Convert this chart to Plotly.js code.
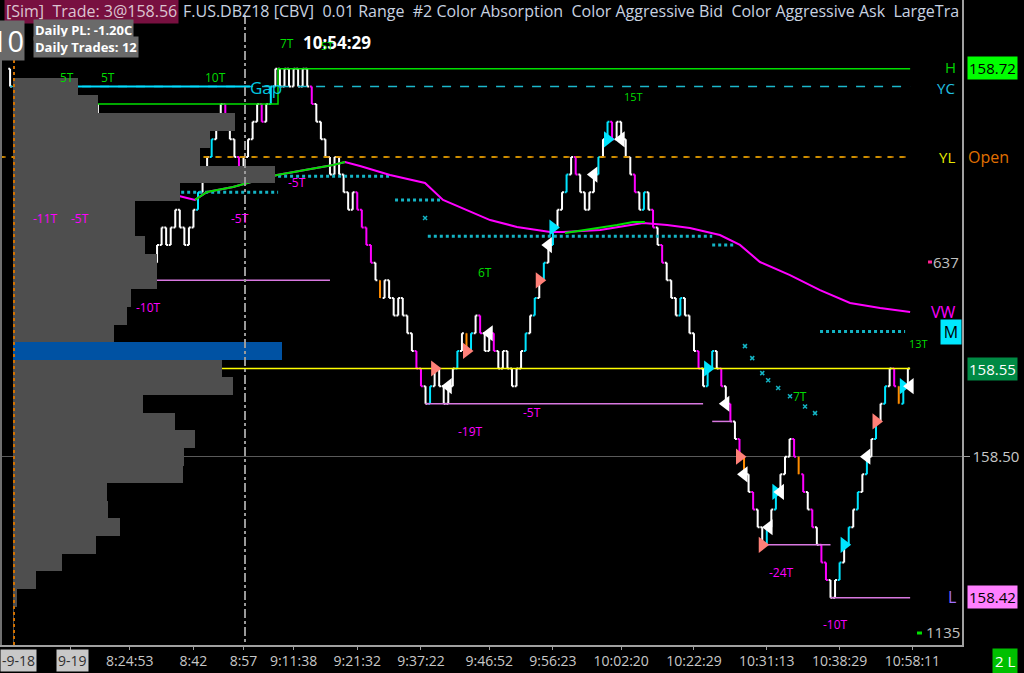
<!DOCTYPE html>
<html><head><meta charset="utf-8">
<script src="https://cdn.plot.ly/plotly-3.0.1.min.js"></script>
<style>html,body{margin:0;padding:0;background:#000;}#chart{width:1024px;height:673px;}</style>
</head><body><div id="chart"></div>
<script>
// ---------------- DATA ----------------
const TICK = 0.01;
const BASE = 158.55;                 // price reference for tick offsets
const sessionOpenTicks = 11;         // first bar open, ticks from BASE
// range-bar closes (ticks from BASE), one per bar, bar index 1..N
const closeTicks = [
  12,11,12,13,14,15,14,15,14,13, 12,13,14,15,14,15,14,15,14,13,
  12,11,10,9,8,7,6,5,
  6,5,6,7,8,7,8,9,8,7,8,9,
  10,11,12,13,14,15,
  14,13,12,11,12,13,
  14,15,14,15,16,17,
  16,17,16,17,16,17,16,15,
  14,13,12,11,12,11,10,9,10,9,8,7,6,5,
  4,5,4,3,4,3,2,
  1,0,-1,-2,-1,0,-1,-2,-1,
  0,1,2,1,2,3,2,1,2,1,0,1,0,-1,0,1,2,
  3,4,5,6,7,8,9,10,11,12,11,10,9,10,11,12,13,14,13,14,13,12,
  11,10,9,10,9,8,7,6,5,4,3,4,3,2,1,0,-1,0,1,0,-1,-2,-3,-4,-5,-6,-7,-8,-9,-10,
  -9,-8,-7,-6,-5,-4,-5,-6,-7,-8,-9,-10,-11,-12,-13,
  -12,-11,-10,-9,-8,-7,-6,-5,-4,-3,-2,-1,0,-1,-2,-1,0
];
const aggressiveAskBars = [16,18,41,44,57,92,98,101,113,115,117,119,122,129,131,139,147,153,154,166,168,182,184,186,188,190,192,196];
const aggressiveBidBars = [2,9,21,22,23,25,27,30,47,50,55,66,76,77,78,79,89,90,103,106,124,132,137,141,143,151,156,158,160,163,172,174,176,178,179,194];
const absorptionBars = [81,100,161,173,195];
const prevSessionBar = {idx:-0.3, open:158.72, high:158.72, low:158.71, close:158.71};

const timeTickIdx  = [13,26,40,51,62,76,90,105,119,134,150,166,182,198];
const timeTickText = ['','8:24:53','8:42','8:57','9:11:38','9:21:32','9:37:22','9:46:52','9:56:23','10:02:20','10:22:29','10:31:13','10:38:29','10:58:11'];

const profilePrices  = [158.71,158.70,158.69,158.68,158.67,158.66,158.65,158.64,158.63,158.62,158.61,158.60,158.59,158.58,158.57,158.56,158.55,158.54,158.53,158.52,158.51,158.50,158.49,158.48,158.47,158.46,158.45,158.44,158.43,158.42,158.41,158.40];
const profileVolumes = [65,85,222,197,187,262,167,122,122,132,144,144,118,114,101,269,209,220,130,162,182,171,170,94,95,107,83,49,23,4,1,1];
const pocPrice = 158.56;

const vwapIdx = [0.56,4.74,8.47,10.67,12.87,15.07,19.46,20.34,21.66,23.2,25.4,27.59,30.45,34.19,37.7,40.34,42.98,48.69,58.36,70.67,73.31,76.6,83.2,85.4,90.89,94.85,100.1,105.2,111.1,118.4,121.2,129.4,138.8,144.1,149.1,155.7,160.1,164.5,171.1,177.7,184.3,190.9,197.5];
const vwapVal = [158.6598,158.6609,158.6700,158.6768,158.6779,158.6756,158.6813,158.6830,158.6768,158.6700,158.6643,158.6530,158.6512,158.6495,158.6473,158.6456,158.6501,158.6530,158.6598,158.6654,158.6671,158.6649,158.6598,158.6586,158.6552,158.6456,158.6399,158.6342,158.6303,158.6274,158.6274,158.6285,158.6325,158.6314,158.6297,158.6257,158.6201,158.6104,158.6030,158.5945,158.5872,158.5843,158.5820];
const avg1Idx = [4.74,8.47,10.23,12.21,14.41,19.46];
const avg1Val = [158.6609,158.6700,158.6779,158.6785,158.6756,158.6813];
const avg2Idx = [40.34,42.98,48.69,58.36,70.67,73.31];
const avg2Val = [158.6456,158.6501,158.6530,158.6598,158.6654,158.6671];
const avg3Idx = [121.66,129.35,133.1,136.6,139.2];
const avg3Val = [158.6269,158.6297,158.6314,158.6331,158.6331];

const highStepIdx = [1.88,5.62,5.62,58.58,58.58,197.5];
const highStepVal = [158.68,158.68,158.70,158.70,158.72,158.72];
const yesterdayClose = 158.71, yesterdayLow = 158.67, markPrice = 158.55;
const gapStart = 14.4, gapEnd = 52.4;
const lowSegStart = [1.2,28,91,154,165,180];
const lowSegEnd   = [23,70,152,158.4,180,197.5];
const lowSegPrice = [158.65,158.60,158.53,158.52,158.45,158.42];
const absorbStart = [6.5,22.8,58.6,84.3,91.5,154,177.7];
const absorbEnd   = [21.2,58.6,83.2,94.2,154,159,196.4];
const absorbPrice = [158.675,158.650,158.659,158.6456,158.625,158.620,158.571];
const absorbDotIdx = [90.9,161.2,162.8,165,166.3,168.5,171.1,174.4,176.6];
const absorbDotVal = [158.6354,158.5627,158.5559,158.5474,158.5434,158.5389,158.5343,158.5285,158.5247];

const buyIdx = [93,100,116,160,165,190];
const buyPx  = [158.55,158.56,158.60,158.50,158.45,158.52];
const askEntryIdx = [119,131,153,168,183,196];
const askEntryPx  = [158.63,158.68,158.55,158.48,158.45,158.54];
const exitIdx = [96,105,118,128,134,157,161,166.5,169,188,197.5];
const exitPx  = [158.54,158.57,158.62,158.66,158.68,158.53,158.49,158.46,158.48,158.50,158.54];

// ---------------- BUILD ----------------
const FONT = '"Open Sans","Noto Sans",sans-serif';
const PW = 962, PH = 645;
const P = t => +(BASE + t*TICK).toFixed(2);
const idxAll = closeTicks.map((_, i) => i + 1);
const opens = closeTicks.map((c, i) => i === 0 ? sessionOpenTicks : closeTicks[i-1]);
const colored = new Set([...aggressiveAskBars, ...aggressiveBidBars, ...absorptionBars]);

function ohlc(list, color) {
  let md = Infinity;
  for (let k = 1; k < list.length; k++) md = Math.min(md, list[k] - list[k-1]);
  if (!isFinite(md)) md = 1;
  return {
    type:'ohlc', x:list,
    open:list.map(i => P(opens[i-1])), close:list.map(i => P(closeTicks[i-1])),
    high:list.map(i => P(Math.max(opens[i-1], closeTicks[i-1]))),
    low:list.map(i => P(Math.min(opens[i-1], closeTicks[i-1]))),
    increasing:{line:{color:color, width:2}}, decreasing:{line:{color:color, width:2}},
    tickwidth:Math.min(0.5, 0.42/md), hoverinfo:'skip'
  };
}
function line(x, y, color, width, dash, extra) {
  return Object.assign({type:'scatter', mode:'lines', x:x, y:y, line:{color:color, width:width, dash:dash||'solid'}, hoverinfo:'skip'}, extra||{});
}

const traces = [];
traces.push({type:'bar', orientation:'h', x:profileVolumes, y:profilePrices, xaxis:'x2', yaxis:'y', width:0.0101,
  marker:{color:profilePrices.map(p => p === pocPrice ? '#0052a3' : '#4e4e4e'), line:{width:0}}, hoverinfo:'skip'});
// reference levels
traces.push(line([-2.6,197.5],[yesterdayLow,yesterdayLow],'#d8d000',1.5,'4px,8px'));
traces.push(line([-2.6,197.5],[yesterdayLow,yesterdayLow],'#e08a00',1.5,'6px,6px'));
traces.push(line([-0.3,197.5],[yesterdayClose,yesterdayClose],'#1cb8cc',1.5,'dash'));
traces.push(line([gapStart,gapEnd],[yesterdayClose,yesterdayClose],'#00dcff',2));
traces.push(line([5.18,197.5],[markPrice,markPrice],'#ffff00',1.5));
traces.push(line(highStepIdx, highStepVal, '#00e000', 1.5));
for (let k = 0; k < lowSegPrice.length; k++)
  traces.push(line([lowSegStart[k], lowSegEnd[k]], [lowSegPrice[k], lowSegPrice[k]], '#d878e0', 1.5));
for (let k = 0; k < absorbPrice.length; k++)
  traces.push(line([absorbStart[k], absorbEnd[k]], [absorbPrice[k], absorbPrice[k]], '#14b4c4', 3, 'dot'));
traces.push({type:'scatter', mode:'markers', x:absorbDotIdx, y:absorbDotVal, marker:{symbol:'x-thin', size:4, line:{color:'#14b4c4', width:1.5}}, hoverinfo:'skip'});
// vwap & averages
traces.push(line(vwapIdx, vwapVal, '#ff00ff', 2));
traces.push(line(avg1Idx, avg1Val, '#00e000', 2));
traces.push(line(avg2Idx, avg2Val, '#00e000', 2));
traces.push(line(avg3Idx, avg3Val, '#00e000', 2));
// bars
traces.push(ohlc(idxAll.filter(i => !colored.has(i)), '#ffffff'));
traces.push(ohlc(aggressiveAskBars, '#00e5ff'));
traces.push(ohlc(aggressiveBidBars, '#ff00ff'));
traces.push(ohlc(absorptionBars, '#ff8c00'));
traces.push({type:'ohlc', x:[prevSessionBar.idx], open:[prevSessionBar.open], high:[prevSessionBar.high], low:[prevSessionBar.low], close:[prevSessionBar.close],
  increasing:{line:{color:'#fff', width:2}}, decreasing:{line:{color:'#fff', width:2}}, tickwidth:0.4, hoverinfo:'skip'});
// trades
traces.push({type:'scatter', mode:'markers', x:buyIdx, y:buyPx, marker:{symbol:'triangle-right', size:14, color:'#ff8078'}, hoverinfo:'skip'});
traces.push({type:'scatter', mode:'markers', x:askEntryIdx, y:askEntryPx, marker:{symbol:'triangle-right', size:14, color:'#00e5ff'}, hoverinfo:'skip'});
traces.push({type:'scatter', mode:'markers', x:exitIdx, y:exitPx, marker:{symbol:'triangle-left', size:14, color:'#ffffff'}, hoverinfo:'skip'});

// ---------------- LAYOUT ----------------
const px = x => x / PW, py = y => 1 - y / PH;
function A(text, x, y, color, size, extra) {
  return Object.assign({text:text, x:px(x), y:py(y), xref:'paper', yref:'paper', showarrow:false,
    xanchor:'center', yanchor:'middle', font:{family:FONT, size:size, color:color}}, extra||{});
}
const G = '#00dc00', M = '#ff00ff';
const ann = [
  A('[Sim]\u00a0 Trade: 3@158.56', 4, 11, '#dcc4d0', 16, {xanchor:'left', bgcolor:'#781040', borderpad:1}),
  A('F.US.DBZ18 [CBV]\u00a0 0.01 Range\u00a0 #2 Color Absorption\u00a0 Color Aggressive Bid\u00a0 Color Aggressive Ask\u00a0 LargeTra', 181, 11, '#c8d2e0', 16, {xanchor:'left'}),
  A('10', 25, 40, '#ffffff', 29, {xanchor:'right', bgcolor:'#6a6a6a', borderpad:0}),
  A('<b>Daily PL: -1.20C</b>', 33, 30, '#ffffff', 13, {xanchor:'left', bgcolor:'#6a6a6a', borderpad:1}),
  A('<b>Daily Trades: 12</b>', 33, 47, '#ffffff', 13, {xanchor:'left', bgcolor:'#6a6a6a', borderpad:1}),
  A('7T', 287, 44, G, 12),
  A('<b>10:54:29</b>', 337, 42, '#ffffff', 17),
  A('5T', 327, 45, G, 11),
  A('5T', 67, 78, G, 12), A('5T', 108, 78, G, 12), A('10T', 215, 78, G, 12),
  A('Gap', 266, 87, '#00c8e0', 17),
  A('15T', 633, 97, G, 11), A('6T', 485, 273, G, 12), A('7T', 800, 396, G, 12), A('13T', 918, 343, G, 11),
  A('-5T', 297, 183, M, 12), A('-11T', 45, 218, M, 12), A('-5T', 80, 218, M, 12), A('-5T', 240, 218, M, 12),
  A('-10T', 148, 307, M, 12), A('-5T', 532, 412, M, 12), A('-19T', 470, 431, M, 12),
  A('-24T', 781, 572, M, 12), A('-10T', 835, 624, M, 12),
  A('H', 950, 67, '#00d000', 15), A('YC', 946, 88, '#20c0e0', 15), A('YL', 947, 157, '#e8e800', 15),
  A('Open', 988, 157, '#e07000', 16),
  A('637', 946, 262, '#c0c0c0', 15), A('VW', 943, 312, '#ff00ff', 16),
  A('M', 951, 332, '#000000', 16, {bgcolor:'#00e8ff', borderpad:1, width:18}),
  A('L', 952, 597, '#a070ff', 16), A('1135', 943, 632, '#c0c0c0', 15),
  A('158.72', 992, 68, '#000000', 15, {bgcolor:'#00ff00', borderpad:1}),
  A('158.55', 992, 369, '#ffffff', 15, {bgcolor:'#008a44', borderpad:1}),
  A('158.42', 992, 597, '#000000', 15, {bgcolor:'#ff80ff', borderpad:1}),
  A('2 L', 1005, 661, '#ffffff', 15, {bgcolor:'#00c000', borderpad:2}),
  A('-9-18', 0, 660, '#303030', 14, {xanchor:'left', bgcolor:'#c8c8c8', borderpad:1}),
  A('9-19', 72, 660, '#303030', 14, {bgcolor:'#c8c8c8', borderpad:1})
];
function S(x0, y0, x1, y1, color, width, dash) {
  return {type:'line', xref:'paper', yref:'paper', x0:px(x0), y0:py(y0), x1:px(x1), y1:py(y1), line:{color:color, width:width, dash:dash||'solid'}};
}
const shapes = [
  S(245, 15, 245, 645, '#9a9a9a', 2, 'dashdot'),
  S(14, 60, 14, 645, '#d07000', 2, 'dot'),
  S(1, 60, 1, 645, '#707070', 2),
  S(928, 262, 932, 262, '#ff2090', 3),
  S(917, 633, 922, 633, '#00e000', 3)
];

const layout = {
  width:1024, height:673, paper_bgcolor:'#000', plot_bgcolor:'#000',
  margin:{l:0, r:62, t:0, b:28}, showlegend:false, dragmode:false, bargap:0,
  xaxis:{range:[-2.516, 208.9], tickmode:'array', tickvals:timeTickIdx, ticktext:timeTickText,
    tickfont:{family:FONT, size:14, color:'#c8c8c8'}, ticks:'outside', ticklen:3, tickcolor:'#a0a0a0',
    showgrid:false, zeroline:false, showline:true, linecolor:'#a0a0a0', linewidth:1.5,
    rangeslider:{visible:false}, fixedrange:true},
  xaxis2:{overlaying:'x', range:[-13, 949], visible:false, fixedrange:true},
  yaxis:{side:'right', range:[158.3932, 158.7590], tickmode:'array', tickvals:[158.50], ticktext:['158.50'],
    ticks:'outside', ticklen:6, tickcolor:'#a0a0a0', tickfont:{family:FONT, size:15, color:'#c8c8c8'},
    showgrid:true, gridcolor:'#5a5a5a', gridwidth:1, zeroline:false, showline:true, linecolor:'#a0a0a0', linewidth:1.5, fixedrange:true},
  annotations:ann, shapes:shapes
};
Plotly.newPlot('chart', traces, layout, {displayModeBar:false, staticPlot:true});
</script></body></html>
